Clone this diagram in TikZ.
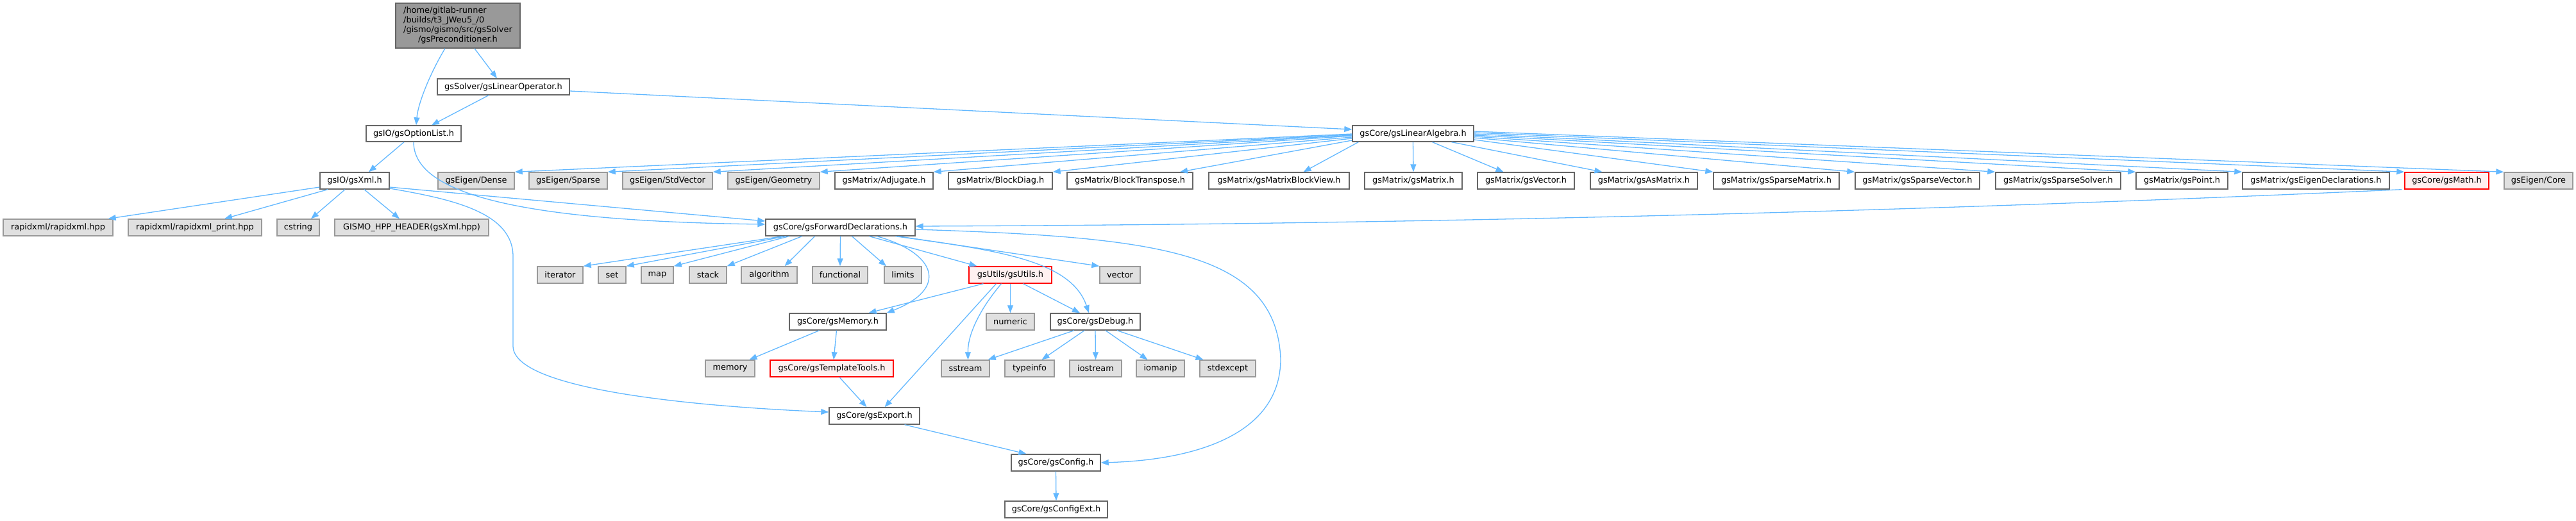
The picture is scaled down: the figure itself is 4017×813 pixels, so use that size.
\documentclass[tikz,border=0pt]{standalone}
\usepackage{fontspec}
\setmainfont{DejaVu Sans}
\usetikzlibrary{arrows.meta}
\definecolor{edgec}{HTML}{63B8FF}
\definecolor{bdark}{HTML}{666666}
\definecolor{blight}{HTML}{999999}
\definecolor{gfill}{HTML}{E0E0E0}
\definecolor{rfill}{HTML}{FFF0F0}
\definecolor{rootfill}{HTML}{999999}
\begin{document}
\begin{tikzpicture}[x=1pt,y=-1pt,
  nbox/.style={draw=bdark, line width=1.4pt, fill=white, inner sep=0pt, minimum height=26pt, font=\fontsize{12.9}{15}\selectfont},
  gbox/.style={nbox, draw=blight, fill=gfill},
  rbox/.style={nbox, draw=red, fill=rfill},
  dep/.style={draw=edgec, line width=1.3pt, -{Triangle[length=12pt,width=9pt]}}]
\useasboundingbox (0,0) rectangle (4017,813);
% root
\node[nbox, fill=rootfill, minimum width=194pt, minimum height=70pt] (root) at (714,40)
  {\begin{tabular}{@{}l@{}}/home/gitlab-runner\\/builds/t3\_JWeu5\_/0\\/gismo/gismo/src/gsSolver\\\multicolumn{1}{@{}c@{}}{/gsPreconditioner.h}\end{tabular}};
\node[nbox, minimum width=206pt, minimum height=25pt] (linop) at (785,135.5) {gsSolver/gsLinearOperator.h};
\node[nbox, minimum width=148pt, minimum height=25pt] (optlist) at (645,208.5) {gsIO/gsOptionList.h};
\node[nbox, minimum width=189pt, minimum height=25pt] (la) at (2203.5,208.5) {gsCore/gsLinearAlgebra.h};
% row 282
\node[nbox, minimum width=108pt] (xml) at (553,282) {gsIO/gsXml.h};
\node[gbox, minimum width=119pt] (dense) at (742.5,282) {gsEigen/Dense};
\node[gbox, minimum width=122pt] (sparse) at (886,282) {gsEigen/Sparse};
\node[gbox, minimum width=140pt] (stdvec) at (1041,282) {gsEigen/StdVector};
\node[gbox, minimum width=143pt] (geom) at (1206.5,282) {gsEigen/Geometry};
\node[nbox, minimum width=153pt] (adj) at (1378.5,282) {gsMatrix/Adjugate.h};
\node[nbox, minimum width=162pt] (bdiag) at (1560,282) {gsMatrix/BlockDiag.h};
\node[nbox, minimum width=196pt] (btrans) at (1762,282) {gsMatrix/BlockTranspose.h};
\node[nbox, minimum width=219pt] (bview) at (1994.5,282) {gsMatrix/gsMatrixBlockView.h};
\node[nbox, minimum width=152pt] (gsmatrix) at (2204,282) {gsMatrix/gsMatrix.h};
\node[nbox, minimum width=151pt] (gsvector) at (2379.5,282) {gsMatrix/gsVector.h};
\node[nbox, minimum width=167pt] (asmatrix) at (2563.5,282) {gsMatrix/gsAsMatrix.h};
\node[nbox, minimum width=196pt] (spmatrix) at (2770,282) {gsMatrix/gsSparseMatrix.h};
\node[nbox, minimum width=194pt] (spvector) at (2990,282) {gsMatrix/gsSparseVector.h};
\node[nbox, minimum width=195pt] (spsolver) at (3209.5,282) {gsMatrix/gsSparseSolver.h};
\node[nbox, minimum width=143pt] (point) at (3402.5,282) {gsMatrix/gsPoint.h};
\node[nbox, minimum width=229pt] (eigdecl) at (3611.5,282) {gsMatrix/gsEigenDeclarations.h};
\node[rbox, minimum width=131pt] (gsmath) at (3815.5,282) {gsCore/gsMath.h};
\node[gbox, minimum width=107pt] (core) at (3958.5,282) {gsEigen/Core};
% row 355
\node[gbox, minimum width=171pt] (rapid) at (90.5,355) {rapidxml/rapidxml.hpp};
\node[gbox, minimum width=208pt] (rapidp) at (304,355) {rapidxml/rapidxml\_print.hpp};
\node[gbox, minimum width=66pt] (cstring) at (465,355) {cstring};
\node[gbox, minimum width=240pt] (gismohpp) at (642,355) {GISMO\_HPP\_HEADER(gsXml.hpp)};
\node[nbox, minimum width=233pt] (fwd) at (1310.5,355) {gsCore/gsForwardDeclarations.h};
% row 429
\node[gbox, minimum width=71pt] (iterator) at (873.5,429) {iterator};
\node[gbox, minimum width=43pt] (set) at (954.5,429) {set};
\node[gbox, minimum width=50pt] (map) at (1025,429) {map};
\node[gbox, minimum width=58pt] (stack) at (1104,429) {stack};
\node[gbox, minimum width=87pt] (algorithm) at (1199.5,429) {algorithm};
\node[gbox, minimum width=86pt] (functional) at (1310,429) {functional};
\node[gbox, minimum width=58pt] (limits) at (1408,429) {limits};
\node[rbox, minimum width=129pt] (utils) at (1575.5,429) {gsUtils/gsUtils.h};
\node[gbox, minimum width=63pt] (vector) at (1746.5,429) {vector};
% row 502
\node[nbox, minimum width=151pt] (memoryh) at (1306.5,502) {gsCore/gsMemory.h};
\node[gbox, minimum width=75pt] (numeric) at (1575.5,502) {numeric};
\node[nbox, minimum width=140pt] (debug) at (1708,502) {gsCore/gsDebug.h};
% row 575
\node[gbox, minimum width=77pt] (memory) at (1138.5,575) {memory};
\node[rbox, minimum width=192pt] (tmpl) at (1297,575) {gsCore/gsTemplateTools.h};
\node[gbox, minimum width=75pt] (sstream) at (1505.5,575) {sstream};
\node[gbox, minimum width=77pt] (typeinfo) at (1605.5,575) {typeinfo};
\node[gbox, minimum width=81pt] (iostream) at (1708.5,575) {iostream};
\node[gbox, minimum width=75pt] (iomanip) at (1809.5,575) {iomanip};
\node[gbox, minimum width=87pt] (stdexcept) at (1914.5,575) {stdexcept};
% rows below
\node[nbox, minimum width=141pt] (export) at (1363.5,649) {gsCore/gsExport.h};
\node[nbox, minimum width=139pt] (config) at (1646.5,722) {gsCore/gsConfig.h};
\node[nbox, minimum width=160pt] (configext) at (1647,795) {gsCore/gsConfigExt.h};

% ---- edges ----
\draw[dep] ([xshift=-20pt]root.south) .. controls (672,112) and (652,160) .. ([xshift=4pt]optlist.north);
\draw[dep] ([xshift=26pt]root.south) -- ([xshift=-10pt]linop.north);
\draw[dep] ([xshift=-23pt]linop.south) -- ([xshift=28pt]optlist.north);
\draw[dep] ([yshift=-6.5pt]linop.east) -- ([yshift=6.5pt]la.west);
\draw[dep] ([xshift=-15pt]optlist.south) -- ([xshift=22pt]xml.north);
\draw[dep] (optlist.south) .. controls (645,300) and (800,345) .. ([yshift=5pt]fwd.west);
% gsXml
\draw[dep] ([yshift=-10pt]xml.west) -- ([xshift=-8pt]rapid.north east);
\draw[dep] ([xshift=-42pt]xml.south) -- ([xshift=46pt]rapidp.north);
\draw[dep] ([xshift=-15pt]xml.south) -- ([xshift=20pt]cstring.north);
\draw[dep] ([xshift=15pt]xml.south) -- ([xshift=-19pt]gismohpp.north);
\draw[dep] ([yshift=-10pt]xml.east) -- ([yshift=10pt]fwd.west);
\draw[dep] ([yshift=-12pt]xml.east) .. controls (700,310) and (800,330) .. (800,400) -- (800,540)
   .. controls (800,610) and (1100,635) .. ([yshift=6pt]export.west);
% gsLinearAlgebra
\draw[dep] ([yshift=-0.5pt]la.west) -- (dense.north east);
\draw[dep] ([yshift=-1.5pt]la.west) -- (sparse.north east);
\draw[dep] ([yshift=-2.5pt]la.west) -- (stdvec.north east);
\draw[dep] ([yshift=-3.5pt]la.west) -- (geom.north east);
\draw[dep] ([yshift=-5.5pt]la.west) -- (adj.north east);
\draw[dep] ([yshift=-7.5pt]la.west) -- (bdiag.north east);
\draw[dep] ([yshift=-10.5pt]la.west) -- ([xshift=78pt]btrans.north);
\draw[dep] ([xshift=10pt]la.south west) -- ([xshift=38pt]bview.north);
\draw[dep] (la.south) -- (gsmatrix.north);
\draw[dep] ([xshift=30pt]la.south) -- ([xshift=-35pt]gsvector.north);
\draw[dep] ([xshift=60pt]la.south) -- ([xshift=-65pt]asmatrix.north);
\draw[dep] ([yshift=-9.5pt]la.east) -- (spmatrix.north west);
\draw[dep] ([yshift=-6.5pt]la.east) -- (spvector.north west);
\draw[dep] ([yshift=-4.5pt]la.east) -- (spsolver.north west);
\draw[dep] ([yshift=-2.5pt]la.east) -- (point.north west);
\draw[dep] ([yshift=-0.5pt]la.east) -- (eigdecl.north west);
\draw[dep] ([yshift=1.5pt]la.east) -- (gsmath.north west);
\draw[dep] ([yshift=3.5pt]la.east) -- (core.north west);
\draw[dep] ([xshift=-4pt]gsmath.south west) .. controls (2970,331) and (2200,350) .. ([yshift=2pt]fwd.east);
% gsForwardDeclarations
\draw[dep] ([xshift=-90pt]fwd.south) -- (iterator.north east);
\draw[dep] ([xshift=-85pt]fwd.south) -- (set.north east);
\draw[dep] ([xshift=-80pt]fwd.south) -- (map.north east);
\draw[dep] ([xshift=-60pt]fwd.south) -- (stack.north east);
\draw[dep] ([xshift=-40pt]fwd.south) -- ([xshift=24pt]algorithm.north);
\draw[dep] (fwd.south) -- (functional.north);
\draw[dep] ([xshift=18pt]fwd.south) -- ([xshift=-26pt]limits.north);
\draw[dep] ([xshift=45pt]fwd.south) -- ([xshift=-52pt]utils.north);
\draw[dep] ([xshift=90pt]fwd.south) -- (vector.north west);
\draw[dep] ([xshift=57pt]fwd.south) .. controls (1460,395) and (1480,450) .. (memoryh.north east);
\draw[dep] ([xshift=86pt]fwd.south) .. controls (1550,390) and (1670,405) .. ([xshift=-10pt]debug.north);
\draw[dep] ([yshift=-3pt]fwd.east) .. controls (1800,370) and (1990,390) .. (1997,560)
   .. controls (1997,680) and (1860,718) .. (config.east);
% gsUtils
\draw[dep] ([xshift=-42pt]utils.south) -- ([xshift=48pt]memoryh.north);
\draw[dep] (utils.south) -- (numeric.north);
\draw[dep] ([xshift=20pt]utils.south) -- ([xshift=-24pt]debug.north);
\draw[dep] ([xshift=-14pt]utils.south) .. controls (1530,480) and (1509,520) .. ([xshift=4pt]sstream.north);
\draw[dep] ([xshift=-22pt]utils.south) -- ([xshift=16pt]export.north);
% gsMemory
\draw[dep] ([xshift=-29pt]memoryh.south) -- ([xshift=30pt]memory.north);
\draw[dep] ([xshift=-2pt]memoryh.south) -- ([xshift=3pt]tmpl.north);
\draw[dep] ([xshift=12pt]tmpl.south) -- ([xshift=-12pt]export.north);
% gsDebug
\draw[dep] ([xshift=-33pt]debug.south) -- ([xshift=-3pt]sstream.north east);
\draw[dep] ([xshift=-17pt]debug.south) -- ([xshift=19pt]typeinfo.north);
\draw[dep] (debug.south) -- (iostream.north);
\draw[dep] ([xshift=16pt]debug.south) -- ([xshift=-20pt]iomanip.north);
\draw[dep] ([xshift=34pt]debug.south) -- ([xshift=-38pt]stdexcept.north);
% export / config
\draw[dep] ([xshift=47pt]export.south) -- ([xshift=-46pt]config.north);
\draw[dep] (config.south) -- (configext.north);
\end{tikzpicture}
\end{document}
